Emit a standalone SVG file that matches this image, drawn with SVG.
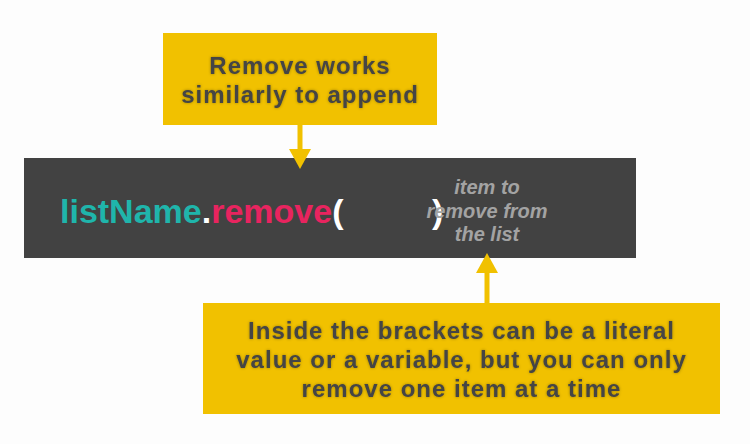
<svg xmlns="http://www.w3.org/2000/svg" width="750" height="444" viewBox="0 0 750 444">
  <defs>
    <style>
      .note { fill: #f1c100; }
      .note-text { font-family: "Liberation Sans", Arial, sans-serif; font-weight: bold; font-size: 24px; letter-spacing: 1px; fill: #444444; text-anchor: middle; filter: url(#glow); }
      .code { font-family: "Liberation Sans", Arial, sans-serif; font-weight: bold; font-size: 34px; }
      .hint { font-family: "Liberation Sans", Arial, sans-serif; font-weight: bold; font-style: italic; font-size: 20px; fill: #a3a3a3; text-anchor: middle; }
      .conn { stroke: #f1c100; stroke-width: 5; fill: none; marker-end: url(#arrow); }
    </style>
    <filter id="glow" x="-10%" y="-30%" width="120%" height="160%">
      <feGaussianBlur in="SourceAlpha" stdDeviation="1.6" result="b"/>
      <feFlood flood-color="#000000" flood-opacity="0.35"/>
      <feComposite in2="b" operator="in" result="s"/>
      <feMerge><feMergeNode in="s"/><feMergeNode in="SourceGraphic"/></feMerge>
    </filter>
    <marker id="arrow" markerUnits="userSpaceOnUse" markerWidth="20" markerHeight="22" refX="0" refY="11" orient="auto" viewBox="0 0 20 22">
      <path d="M0,0 L20,11 L0,22 z" fill="#f1c100"/>
    </marker>
  </defs>
  <rect width="750" height="444" fill="#fdfdfd"/>

  <g id="top-note">
    <rect class="note" x="163" y="33" width="274" height="92"/>
    <text class="note-text" x="300" y="74">Remove works</text>
    <text class="note-text" x="300" y="103">similarly to append</text>
  </g>

  <g id="code-bar">
    <rect x="24" y="158" width="612" height="100" fill="#424242"/>
    <text class="code" x="60" y="223"><tspan fill="#1fb5ab">listName</tspan><tspan fill="#ffffff">.</tspan><tspan fill="#e8245f">remove</tspan><tspan fill="#ffffff">(</tspan></text>
    <text class="code" x="432" y="223" fill="#ffffff">)</text>
    <text class="hint" x="487" y="194">item to</text>
    <text class="hint" x="487" y="218">remove from</text>
    <text class="hint" x="487" y="241">the list</text>
  </g>

  <g id="bottom-note">
    <rect class="note" x="203" y="303" width="517" height="111"/>
    <text class="note-text" x="461.5" y="339">Inside the brackets can be a literal</text>
    <text class="note-text" x="461.5" y="368">value or a variable, but you can only</text>
    <text class="note-text" x="461.5" y="397">remove one item at a time</text>
  </g>

  <g id="connectors">
    <line class="conn" x1="300" y1="125" x2="300" y2="149"/>
    <line class="conn" x1="487" y1="303" x2="487" y2="273"/>
  </g>
</svg>
